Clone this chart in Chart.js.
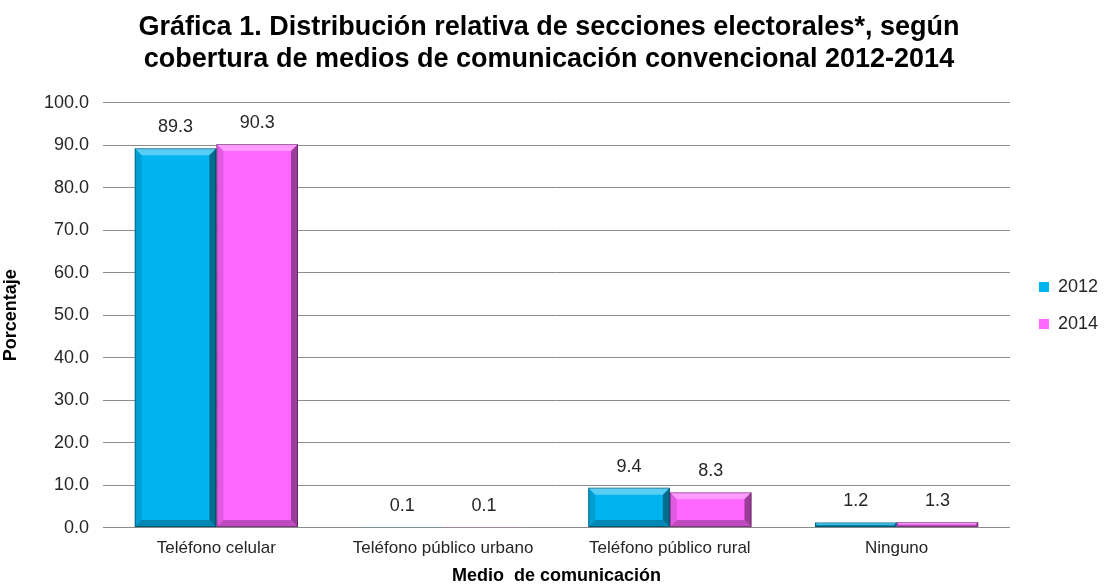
<!DOCTYPE html>
<html>
<head>
<meta charset="utf-8">
<script src="https://cdn.jsdelivr.net/npm/chart.js@4"></script>
<style>
  html, body { margin: 0; padding: 0; background: #fff; }
  #wrap { width: 1104px; height: 585px; }
</style>
</head>
<body>
<div id="wrap"><canvas id="grafica"></canvas></div>
<script>
const categorias = ['Teléfono celular', 'Teléfono público urbano', 'Teléfono público rural', 'Ninguno'];
const valores2012 = [89.3, 0.1, 9.4, 1.2];
const valores2014 = [90.3, 0.1, 8.3, 1.3];
const ticksY = [0, 10, 20, 30, 40, 50, 60, 70, 80, 90, 100];

const fuente = '"Liberation Sans", Arial, sans-serif';

// etiquetas encima de cada barra
const etiquetas = {
  id: 'etiquetas',
  afterDatasetsDraw(chart) {
    const ctx = chart.ctx;
    ctx.save();
    ctx.font = '18px ' + fuente;
    ctx.fillStyle = '#262626';
    ctx.textAlign = 'center';
    ctx.textBaseline = 'middle';
    chart.data.datasets.forEach((ds, i) => {
      chart.getDatasetMeta(i).data.forEach((bar, j) => {
        ctx.fillText(ds.data[j].toFixed(1), bar.x, bar.y - 21);
      });
    });
    ctx.restore();
  }
};

// efecto biselado de las barras
const bisel = {
  id: 'bisel',
  afterDatasetsDraw(chart) {
    const ctx = chart.ctx;
    ctx.save();
    chart.data.datasets.forEach((ds, i) => {
      chart.getDatasetMeta(i).data.forEach(bar => {
        const w = bar.width;
        const l = bar.x - w / 2, r = bar.x + w / 2;
        const t = bar.y, b = bar.base;
        const h = b - t;
        if (h < 1) return;
        const s = Math.min(7, h / 2, w / 2);
        const lados = [
          [[l, t], [r, t], [r - s, t + s], [l + s, t + s], 'rgba(255,255,255,0.35)'],
          [[l, t], [l + s, t + s], [l + s, b - s], [l, b], 'rgba(0,0,0,0.12)'],
          [[r, t], [r, b], [r - s, b - s], [r - s, t + s], 'rgba(0,0,0,0.40)'],
          [[l, b], [l + s, b - s], [r - s, b - s], [r, b], 'rgba(0,0,0,0.25)']
        ];
        lados.forEach(p => {
          ctx.beginPath();
          ctx.moveTo(p[0][0], p[0][1]);
          for (let k = 1; k < 4; k++) ctx.lineTo(p[k][0], p[k][1]);
          ctx.closePath();
          ctx.fillStyle = p[4];
          ctx.fill();
        });
        ctx.strokeStyle = 'rgba(0,0,0,0.35)';
        ctx.lineWidth = 1;
        ctx.strokeRect(l + 0.5, t + 0.5, w - 1, h - 1);
      });
    });
    ctx.restore();
  }
};

// corre la leyenda un poco a la derecha y hacia abajo
const leyendaDerecha = {
  id: 'leyendaDerecha',
  afterLayout(chart) {
    if (chart.legend) {
      chart.legend.left += 10;
      chart.legend.right += 10;
      chart.legend.top += 13;
      chart.legend.bottom += 13;
    }
  }
};

const ctx = document.getElementById('grafica').getContext('2d');
new Chart(ctx, {
  type: 'bar',
  data: {
    labels: categorias,
    datasets: [
      { label: '2012', data: valores2012, backgroundColor: '#00B4F0', borderWidth: 0 },
      { label: '2014', data: valores2014, backgroundColor: '#FF66FF', borderWidth: 0 }
    ]
  },
  options: {
    responsive: true,
    maintainAspectRatio: false,
    animation: false,
    layout: { padding: { top: 0, right: 6, left: 0, bottom: 0 } },
    datasets: { bar: { categoryPercentage: 0.72, barPercentage: 1.0 } },
    plugins: {
      title: {
        display: true,
        text: ['Gráfica 1. Distribución relativa de secciones electorales*, según',
               'cobertura de medios de comunicación convencional 2012-2014'],
        font: { family: fuente, size: 27, weight: 'bold', lineHeight: 1.2 },
        color: '#000',
        padding: { top: 11, bottom: 27 }
      },
      legend: {
        position: 'right',
        labels: {
          boxWidth: 10,
          boxHeight: 10,
          padding: 19,
          color: '#262626',
          font: { family: fuente, size: 18 }
        }
      },
      tooltip: { enabled: false }
    },
    scales: {
      x: {
        grid: { display: false },
        border: { display: true, color: '#8c8c8c' },
        ticks: { color: '#262626', padding: 3, font: { family: fuente, size: 17 } },
        title: {
          display: true,
          text: 'Medio  de comunicación',
          color: '#000',
          padding: { top: 5, bottom: 0 },
          font: { family: fuente, size: 18, weight: 'bold', lineHeight: 1.0 }
        }
      },
      y: {
        min: 0,
        max: 100,
        afterBuildTicks(axis) { axis.ticks = ticksY.map(v => ({ value: v })); },
        afterFit(axis) { axis.width = 103; },
        grid: { color: '#8c8c8c', drawTicks: false },
        border: { display: false },
        ticks: {
          color: '#262626',
          padding: 14,
          font: { family: fuente, size: 18 },
          callback: v => v.toFixed(1)
        },
        title: {
          display: true,
          text: 'Porcentaje',
          color: '#000',
          padding: { top: 0, bottom: 2 },
          font: { family: fuente, size: 18, weight: 'bold' }
        }
      }
    }
  },
  plugins: [etiquetas, bisel, leyendaDerecha]
});
</script>
</body>
</html>
